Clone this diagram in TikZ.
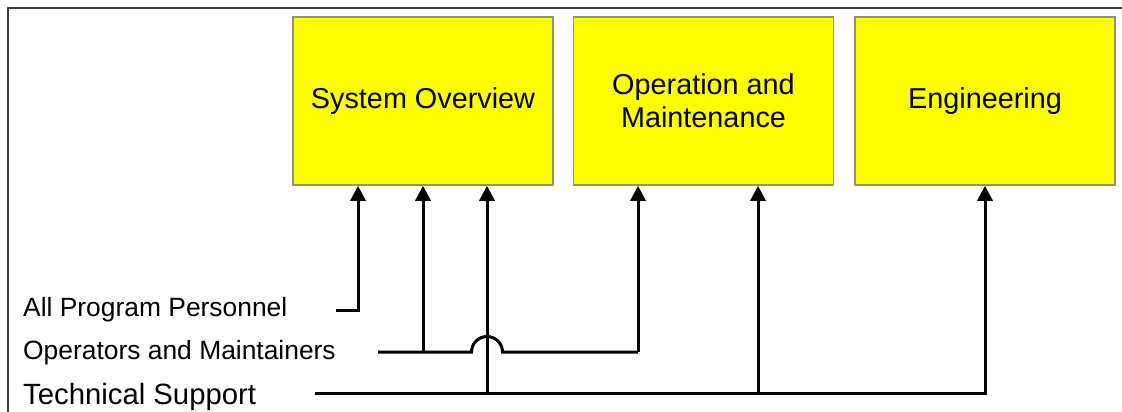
\documentclass[tikz,border=0pt]{standalone}
\usepackage{fontspec}
\setmainfont{Liberation Sans}
\usetikzlibrary{arrows.meta}
\definecolor{boxyellow}{RGB}{255,255,0}
\definecolor{boxline}{RGB}{150,150,110}
\definecolor{framegray}{RGB}{60,60,60}
\tikzset{
  block/.style={draw=boxline, line width=1.5pt, fill=boxyellow,
    minimum width=260pt, minimum height=168pt, align=center,
    font=\fontsize{28.8}{33}\selectfont},
  group/.style={anchor=base west, inner sep=0pt, font=\fontsize{26.4}{33}\selectfont},
  link/.style={line width=3pt},
  feed/.style={link, -{Triangle[width=15pt,length=15pt]}},
}
\begin{document}
\begin{tikzpicture}[x=1pt,y=-1pt]
\useasboundingbox (0,0) rectangle (1122,412);
\draw[framegray, line width=2pt] (8,412) -- (8,8.5) -- (1122,8.5);

% documents
\node[block] (so) at (423,101) {System Overview};
\node[block] (om) at (703.5,101) {Operation and\\Maintenance};
\node[block] (eng) at (985,101) {Engineering};

% audiences
\node[group] (app) at (23,316) {All Program Personnel};
\node[group] (oam) at (23,359) {Operators and Maintainers};
\node[group, font=\fontsize{29.3}{33}\selectfont] (ts) at (23,404) {Technical Support};

\coordinate (appin) at (336,310);
\coordinate (oamin) at (378,352);
\coordinate (tsin) at (315,393);

% all program personnel
\draw[feed] (appin) -| (so.south -| 358,0);

% operators and maintainers
\coordinate (oamso) at (423,352);
\draw[link] (oamin) -- (oamso) -- (471.5,352) arc (180:360:15.5) -- (638,352);
\draw[feed] (638,352) -- (om.south -| 638,0);
\draw[feed] (oamso) -- (so.south -| oamso);

% technical support
\coordinate (tsso) at (487,393);
\coordinate (tsom) at (758,393);
\draw[feed] (tsin) -| (eng.south);
\draw[feed] (tsso) -- (so.south -| tsso);
\draw[feed] (tsom) -- (om.south -| tsom);
\end{tikzpicture}
\end{document}
